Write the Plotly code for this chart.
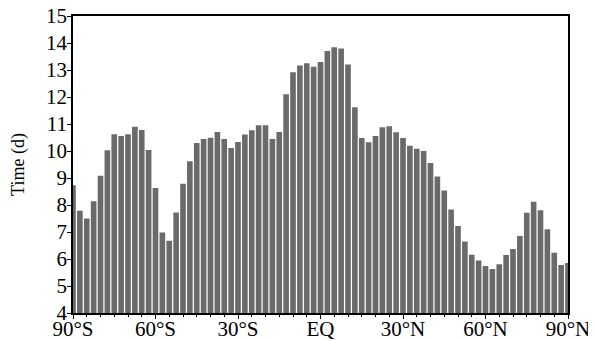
import plotly.graph_objects as go

latitudes = [-90, -87.5, -85, -82.5, -80, -77.5, -75, -72.5, -70, -67.5, -65, -62.5,
             -60, -57.5, -55, -52.5, -50, -47.5, -45, -42.5, -40, -37.5, -35, -32.5,
             -30, -27.5, -25, -22.5, -20, -17.5, -15, -12.5, -10, -7.5, -5, -2.5,
             0, 2.5, 5, 7.5, 10, 12.5, 15, 17.5, 20, 22.5, 25, 27.5,
             30, 32.5, 35, 37.5, 40, 42.5, 45, 47.5, 50, 52.5, 55, 57.5,
             60, 62.5, 65, 67.5, 70, 72.5, 75, 77.5, 80, 82.5, 85, 87.5, 90]

time_days = [8.73, 7.79, 7.50, 8.14, 9.08, 10.03, 10.62, 10.56, 10.62, 10.90, 10.78, 10.04,
             8.63, 6.98, 6.68, 7.72, 8.79, 9.62, 10.30, 10.44, 10.49, 10.70, 10.44, 10.11,
             10.33, 10.61, 10.77, 10.95, 10.95, 10.44, 10.70, 12.10, 12.92, 13.17, 13.25, 13.12,
             13.30, 13.70, 13.84, 13.80, 13.20, 11.62, 10.48, 10.32, 10.56, 10.88, 10.92, 10.69,
             10.48, 10.19, 10.08, 10.00, 9.56, 9.06, 8.54, 7.83, 7.22, 6.65, 6.16, 5.94,
             5.74, 5.63, 5.81, 6.15, 6.37, 6.85, 7.71, 8.12, 7.81, 7.10, 6.23, 5.78, 5.85]

tick_vals = [-90, -60, -30, 0, 30, 60, 90]
tick_text = ["90°S", "60°S", "30°S", "EQ", "30°N", "60°N", "90°N"]

font_family = "Liberation Serif, Times New Roman, serif"

fig = go.Figure(go.Bar(
    x=latitudes,
    y=time_days,
    marker=dict(color="#6a6a6a", line=dict(width=0)),
    width=2.5 * 0.82,
))

# The page body adds an 8px offset, so the figure is sized to fit the window.
fig.update_layout(
    width=588, height=333,
    margin=dict(l=65, r=28, t=8, b=28),
    paper_bgcolor="white", plot_bgcolor="white",
    showlegend=False,
    font=dict(family=font_family, size=21, color="black"),
)

fig.update_xaxes(
    automargin=False,
    range=[-90, 90],
    tickvals=tick_vals, ticktext=tick_text,
    ticks="outside", ticklen=4, tickwidth=1, tickcolor="black",
    minor=dict(dtick=5, tick0=0, ticks="outside", ticklen=2, tickcolor="black"),
    showline=True, linecolor="black", linewidth=1.5, mirror=True,
    showgrid=False, zeroline=False,
    ticklabelstandoff=-8, ticklabeloverflow="allow",
    tickfont=dict(family=font_family, size=21, color="black"),
)

fig.update_yaxes(
    automargin=False,
    range=[4, 15],
    dtick=1, tick0=4,
    ticks="outside", ticklen=4, tickwidth=1, tickcolor="black",
    showline=True, linecolor="black", linewidth=1.5, mirror=True,
    showgrid=False, zeroline=False,
    ticklabelstandoff=-4, ticklabeloverflow="allow",
    title=dict(text="Time (d)", font=dict(family=font_family, size=18, color="black"), standoff=18),
    tickfont=dict(family=font_family, size=21, color="black"),
)

fig.write_html("out.html")
